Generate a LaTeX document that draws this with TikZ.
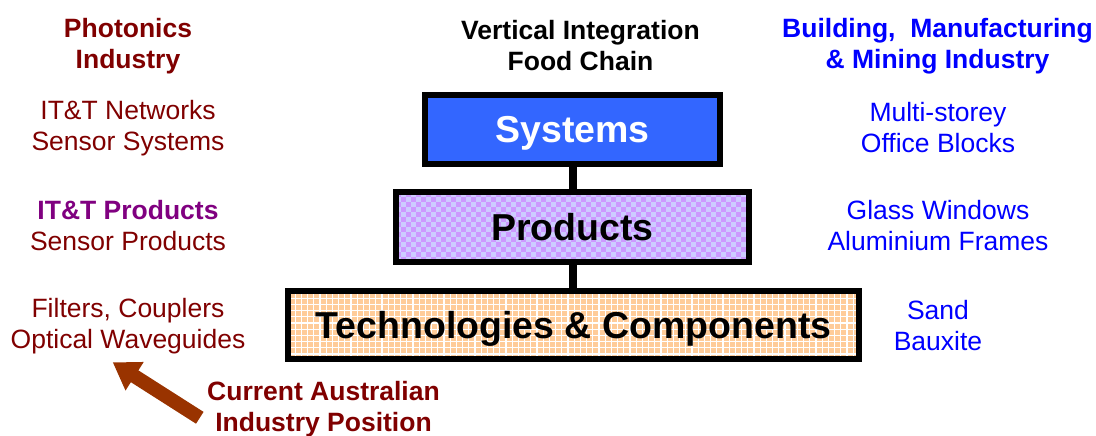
\documentclass[tikz,border=0pt]{standalone}
\usepackage{fontspec}
\setmainfont{Liberation Sans}
\usetikzlibrary{arrows.meta}
\definecolor{dred}{HTML}{800000}
\definecolor{dpurp}{HTML}{800080}
\definecolor{mblue}{HTML}{0000FF}
\definecolor{sysblue}{HTML}{3366FF}
\definecolor{lav}{HTML}{CCCCFF}
\definecolor{purp}{HTML}{CC99FF}
\definecolor{peach}{HTML}{FFCC99}
\definecolor{arrbrown}{HTML}{993300}
\tikzset{
  side/.style={align=center, inner sep=0pt, font=\fontsize{26.5}{31}\selectfont},
  head/.style={side, font=\fontsize{26.5}{31}\selectfont\bfseries},
  layer/.style={draw=black, line width=6pt, inner sep=0pt, outer sep=0pt, text depth=0pt,
    font=\fontsize{37.5}{40}\selectfont\bfseries},
  link/.style={draw=black, line width=8pt},
  bigarrow/.style={draw=arrbrown, line width=14pt, -{Triangle[length=26pt,width=32pt]}}
}
\begin{document}
\begin{tikzpicture}[x=1pt,y=-1pt]
\useasboundingbox (0,0) rectangle (1096,436);
% background patterns
\fill[sysblue] (425,95) rectangle (720,164);
\begin{scope}
  \clip (396,192) rectangle (749,262);
  \fill[lav] (396,192) rectangle (749,262);
  \foreach \j in {0,...,14}{
    \pgfmathtruncatemacro\off{mod(\j,2)}
    \foreach \i in {0,...,35}{
      \fill[purp] ({396+(2*\i+\off)*5},{192+\j*5}) rectangle ++(5,5);
    }
  }
\end{scope}
\begin{scope}
  \clip (288,291) rectangle (859,359);
  \fill[peach] (288,291) rectangle (859,359);
  \foreach \i in {0,...,92}{
    \draw[white, line width=1.3pt] ({289+\i*6.2},291) -- ({289+\i*6.2},359);
  }
  \foreach \j in {0,...,11}{
    \draw[white, line width=1.3pt] (288,{292+\j*6.2}) -- (859,{292+\j*6.2});
  }
\end{scope}
% layer boxes
\node[layer, minimum width=295pt, minimum height=69pt, text=white] (sys) at (572.5,129.5) {Systems};
\node[layer, minimum width=353pt, minimum height=70pt] (prod) at (572.5,227) {Products};
\node[layer, minimum width=571pt, minimum height=68pt] (tech) at (573.5,325) {Technologies \& Components};
\draw[link] (sys.south) -- (prod.north -| sys.south);
\draw[link] (prod.south) -- (tech.north -| prod.south);
% left column
\node[head, text=dred] (phot) at (128,46) {Photonics\\Industry};
\node[side, text=dred] (lnet) at (128,128) {IT\&T Networks\\Sensor Systems};
\node[side, text=dred] (lprod) at (128,226) {{\bfseries\color{dpurp}IT\&T Products}\\Sensor Products};
\node[side, text=dred] (lcomp) at (128,326.5) {Filters, Couplers\\Optical Waveguides};
% middle heading
\node[head, text=black] (vert) at (580.5,46) {Vertical Integration\\Food Chain};
% right column
\node[head, text=mblue] (build) at (937.5,46.5) {Building,\ \ Manufacturing\\\& Mining Industry};
\node[side, text=mblue] (rsys) at (938,128) {Multi-storey\\Office Blocks};
\node[side, text=mblue] (rprod) at (938,226) {Glass Windows\\Aluminium Frames};
\node[side, text=mblue] (rtech) at (938,326) {Sand\\Bauxite};
% current position
\node[head, text=dred] (cur) at (323.5,409.5) {Current Australian\\Industry Position};
\coordinate (atail) at (199.8,417.8);
\coordinate (atip) at (112.7,362.3);
\draw[bigarrow] (atail) -- (atip);
\end{tikzpicture}
\end{document}
